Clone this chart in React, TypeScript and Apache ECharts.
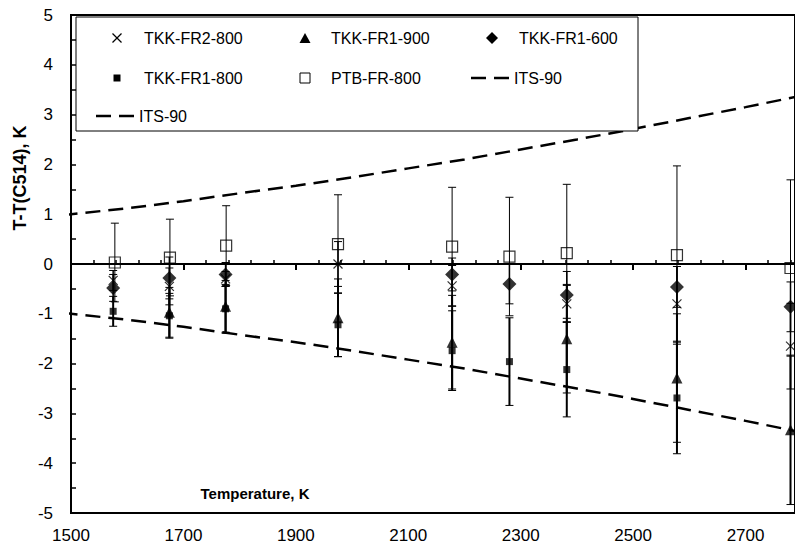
import React, { useEffect, useRef } from "react";
import * as echarts from "echarts";

// x-axis tick values (K)
const xTicks = [1500, 1700, 1900, 2100, 2300, 2500, 2700];

// Each point: [temperature K, T - T(C514) K, ± uncertainty K]
const tkkFr2_800 = [
  [1575, -0.33, 0.2], [1675, -0.45, 0.37], [1775, -0.3, 0.15], [1975, 0.0, 0.45],
  [2178, -0.44, 0.41], [2382, -0.8, 0.37], [2578, -0.8, 0.75], [2780, -1.65, 0.86],
];
const tkkFr1_900 = [
  [1675, -0.97, 0.5], [1775, -0.85, 0.52], [1975, -1.08, 0.78], [2178, -1.57, 0.94],
  [2382, -1.5, 1.09], [2578, -2.29, 1.29], [2780, -3.33, 1.5],
];
const tkkFr1_600 = [
  [1575, -0.48, 0.27], [1675, -0.28, 0.42], [1775, -0.21, 0.24], [2178, -0.21, 0.33],
  [2280, -0.4, 0.4], [2382, -0.62, 0.47], [2578, -0.46, 0.41], [2780, -0.86, 0.5],
];
const tkkFr1_800 = [
  [1575, -0.95, 0.3], [1675, -1.04, 0.45], [1775, -0.9, 0.49], [1975, -1.22, 0.64],
  [2178, -1.74, 0.8], [2280, -1.96, 0.88], [2382, -2.12, 0.95], [2578, -2.69, 1.12],
];
const ptbFr_800 = [
  [1578, 0.03, 0.79], [1676, 0.13, 0.77], [1776, 0.37, 0.8], [1975, 0.4, 0.99],
  [2178, 0.35, 1.19], [2280, 0.15, 1.19], [2382, 0.22, 1.38], [2578, 0.18, 1.79],
  [2780, -0.08, 1.77],
];

// ITS-90 uncertainty envelope (K)
const itsT = [1485, 1600, 1700, 1800, 1900, 2000, 2100, 2200, 2300, 2400, 2500, 2600, 2700, 2800];
const itsU = [0.98, 1.12, 1.26, 1.42, 1.57, 1.74, 1.92, 2.1, 2.3, 2.5, 2.71, 2.93, 3.15, 3.38];

const FONT = "'Liberation Sans', Arial, sans-serif";
const BLACK = "#000";

function errSeries(data: number[][], width: number) {
  return {
    type: "custom",
    silent: true,
    clip: false,
    z: 2,
    data: data.map((d) => [d[0], d[1] - d[2], d[1] + d[2]]),
    encode: { x: 0, y: [1, 2] },
    renderItem: (_p: any, api: any) => {
      const lo = api.coord([api.value(0), api.value(1)]);
      const hi = api.coord([api.value(0), api.value(2)]);
      const hw = 4;
      const s = { stroke: BLACK, lineWidth: width };
      const c = { stroke: BLACK, lineWidth: 1 };
      return {
        type: "group",
        children: [
          { type: "line", shape: { x1: lo[0], y1: lo[1], x2: hi[0], y2: hi[1] }, style: s },
          { type: "line", shape: { x1: lo[0] - hw, y1: lo[1], x2: lo[0] + hw, y2: lo[1] }, style: c },
          { type: "line", shape: { x1: hi[0] - hw, y1: hi[1], x2: hi[0] + hw, y2: hi[1] }, style: c },
        ],
      };
    },
  };
}

function scatter(name: string, data: number[][], symbol: string, size: number, itemStyle: any, z: number) {
  return {
    type: "scatter",
    name,
    data: data.map((d) => [d[0], d[1]]),
    symbol,
    symbolSize: size,
    itemStyle,
    clip: false,
    z,
    silent: true,
  };
}

const CROSS = "path://M0,0L10,10M10,0L0,10";

export default function App() {
  const ref = useRef<HTMLDivElement>(null);
  useEffect(() => {
    if (!ref.current) return;
    const chart = echarts.init(ref.current, undefined, { renderer: "svg" });
    const lgFont = { fontSize: 16, fontFamily: FONT, fill: BLACK };
    const row = [38, 78, 116];
    const symX = [117, 305, 492];
    const txtX = [144, 331, 519];
    const legendGraphics: any[] = [
      { type: "rect", shape: { x: 76, y: 17, width: 562, height: 114 }, style: { fill: "#fff", stroke: BLACK, lineWidth: 1 }, z: 50 },
      { type: "line", shape: { x1: symX[0] - 4.5, y1: row[0] - 4.5, x2: symX[0] + 4.5, y2: row[0] + 4.5 }, style: { stroke: BLACK, lineWidth: 1.2 }, z: 51 },
      { type: "line", shape: { x1: symX[0] - 4.5, y1: row[0] + 4.5, x2: symX[0] + 4.5, y2: row[0] - 4.5 }, style: { stroke: BLACK, lineWidth: 1.2 }, z: 51 },
      { type: "text", x: txtX[0], y: row[0], style: { ...lgFont, text: "TKK-FR2-800", verticalAlign: "middle" }, z: 51 },
      { type: "polygon", shape: { points: [[symX[1], row[0] - 5], [symX[1] + 5.5, row[0] + 5], [symX[1] - 5.5, row[0] + 5]] }, style: { fill: BLACK }, z: 51 },
      { type: "text", x: txtX[1], y: row[0], style: { ...lgFont, text: "TKK-FR1-900", verticalAlign: "middle" }, z: 51 },
      { type: "polygon", shape: { points: [[symX[2], row[0] - 6], [symX[2] + 6, row[0]], [symX[2], row[0] + 6], [symX[2] - 6, row[0]]] }, style: { fill: BLACK }, z: 51 },
      { type: "text", x: txtX[2], y: row[0], style: { ...lgFont, text: "TKK-FR1-600", verticalAlign: "middle" }, z: 51 },
      { type: "rect", shape: { x: symX[0] - 3.5, y: row[1] - 3.5, width: 7, height: 7 }, style: { fill: BLACK }, z: 51 },
      { type: "text", x: txtX[0], y: row[1], style: { ...lgFont, text: "TKK-FR1-800", verticalAlign: "middle" }, z: 51 },
      { type: "rect", shape: { x: symX[1] - 5, y: row[1] - 5, width: 10, height: 10 }, style: { fill: "#fff", stroke: BLACK, lineWidth: 1 }, z: 51 },
      { type: "text", x: txtX[1], y: row[1], style: { ...lgFont, text: "PTB-FR-800", verticalAlign: "middle" }, z: 51 },
      { type: "line", shape: { x1: 471, y1: row[1], x2: 513, y2: row[1] }, style: { stroke: BLACK, lineWidth: 2.5, lineDash: [15, 8] }, z: 51 },
      { type: "text", x: 514, y: row[1], style: { ...lgFont, text: "ITS-90", verticalAlign: "middle" }, z: 51 },
      { type: "line", shape: { x1: 96, y1: row[2], x2: 138, y2: row[2] }, style: { stroke: BLACK, lineWidth: 2.5, lineDash: [15, 8] }, z: 51 },
      { type: "text", x: 139, y: row[2], style: { ...lgFont, text: "ITS-90", verticalAlign: "middle" }, z: 51 },
    ];

    const option: any = {
      animation: false,
      backgroundColor: "#fff",
      grid: {
        left: 71, top: 15, right: -3, height: 498,
        show: true, borderColor: BLACK, borderWidth: 2, backgroundColor: "transparent",
      },
      xAxis: [
        {
          type: "value", min: 1500, max: 2788, interval: 200, position: "bottom",
          axisLine: { show: false, onZero: false },
          axisTick: { show: false },
          splitLine: { show: false },
          axisLabel: {
            color: BLACK, fontSize: 17, fontFamily: FONT, margin: 14, showMaxLabel: false,
            formatter: (v: number) => (xTicks.includes(v) ? String(v) : ""),
          },
        },
        {
          type: "value", min: 1500, max: 2788, interval: 200, position: "top",
          axisLine: { show: true, onZero: true, lineStyle: { color: BLACK, width: 2 } },
          axisTick: { show: true, inside: true, length: 6, lineStyle: { color: BLACK, width: 2 } },
          minorTick: { show: true, splitNumber: 5, length: -4, lineStyle: { color: BLACK, width: 1.5 } },
          axisLabel: { show: false },
          splitLine: { show: false },
        },
      ],
      yAxis: {
        type: "value", min: -5, max: 5, interval: 1,
        axisLine: { show: true, onZero: false, lineStyle: { color: BLACK, width: 2 } },
        axisTick: { show: true, inside: true, length: 5, lineStyle: { color: BLACK, width: 1.5 } },
        minorTick: { show: true, splitNumber: 2, length: 5, lineStyle: { color: BLACK, width: 1.5 } },
        splitLine: { show: false },
        axisLabel: { color: BLACK, fontSize: 17, fontFamily: FONT, margin: 18 },
      },
      graphic: [
        {
          type: "text", x: 20, y: 178, rotation: Math.PI / 2,
          style: { text: "T-T(C514), K", fontSize: 18, fontWeight: "bold", fontFamily: FONT, fill: BLACK, align: "center", verticalAlign: "middle" },
        },
        {
          type: "text", x: 255, y: 493,
          style: { text: "Temperature, K", fontSize: 15, fontWeight: "bold", fontFamily: FONT, fill: BLACK, align: "center", verticalAlign: "middle" },
        },
        ...legendGraphics,
      ],
      series: [
        {
          type: "line", name: "ITS-90", data: itsT.map((t, i) => [t, itsU[i]]),
          showSymbol: false, clip: false, silent: true, z: 1,
          lineStyle: { color: BLACK, width: 2.5, type: [15, 8] },
        },
        {
          type: "line", name: "ITS-90", data: itsT.map((t, i) => [t, -itsU[i]]),
          showSymbol: false, clip: false, silent: true, z: 1,
          lineStyle: { color: BLACK, width: 2.5, type: [15, 8] },
        },
        errSeries(ptbFr_800, 1),
        errSeries(tkkFr1_800, 2),
        errSeries(tkkFr1_900, 2),
        errSeries(tkkFr1_600, 1.5),
        errSeries(tkkFr2_800, 1.5),
        scatter("PTB-FR-800", ptbFr_800, "rect", 11, { color: "rgba(0,0,0,0)", borderColor: BLACK, borderWidth: 1.2 }, 3),
        scatter("TKK-FR1-800", tkkFr1_800, "rect", 7, { color: BLACK }, 4),
        scatter("TKK-FR1-900", tkkFr1_900, "triangle", 11, { color: BLACK }, 5),
        scatter("TKK-FR2-800", tkkFr2_800, CROSS, 9, { color: "rgba(0,0,0,0)", borderColor: BLACK, borderWidth: 1.2 }, 6),
        scatter("TKK-FR1-600", tkkFr1_600, "diamond", 14, { color: BLACK }, 7),
      ],
    };
    chart.setOption(option);
    return () => chart.dispose();
  }, []);
  return (
    <div
      ref={ref}
      style={{ position: "fixed", left: 0, top: 0, width: 795, height: 550, background: "#fff" }}
    />
  );
}
